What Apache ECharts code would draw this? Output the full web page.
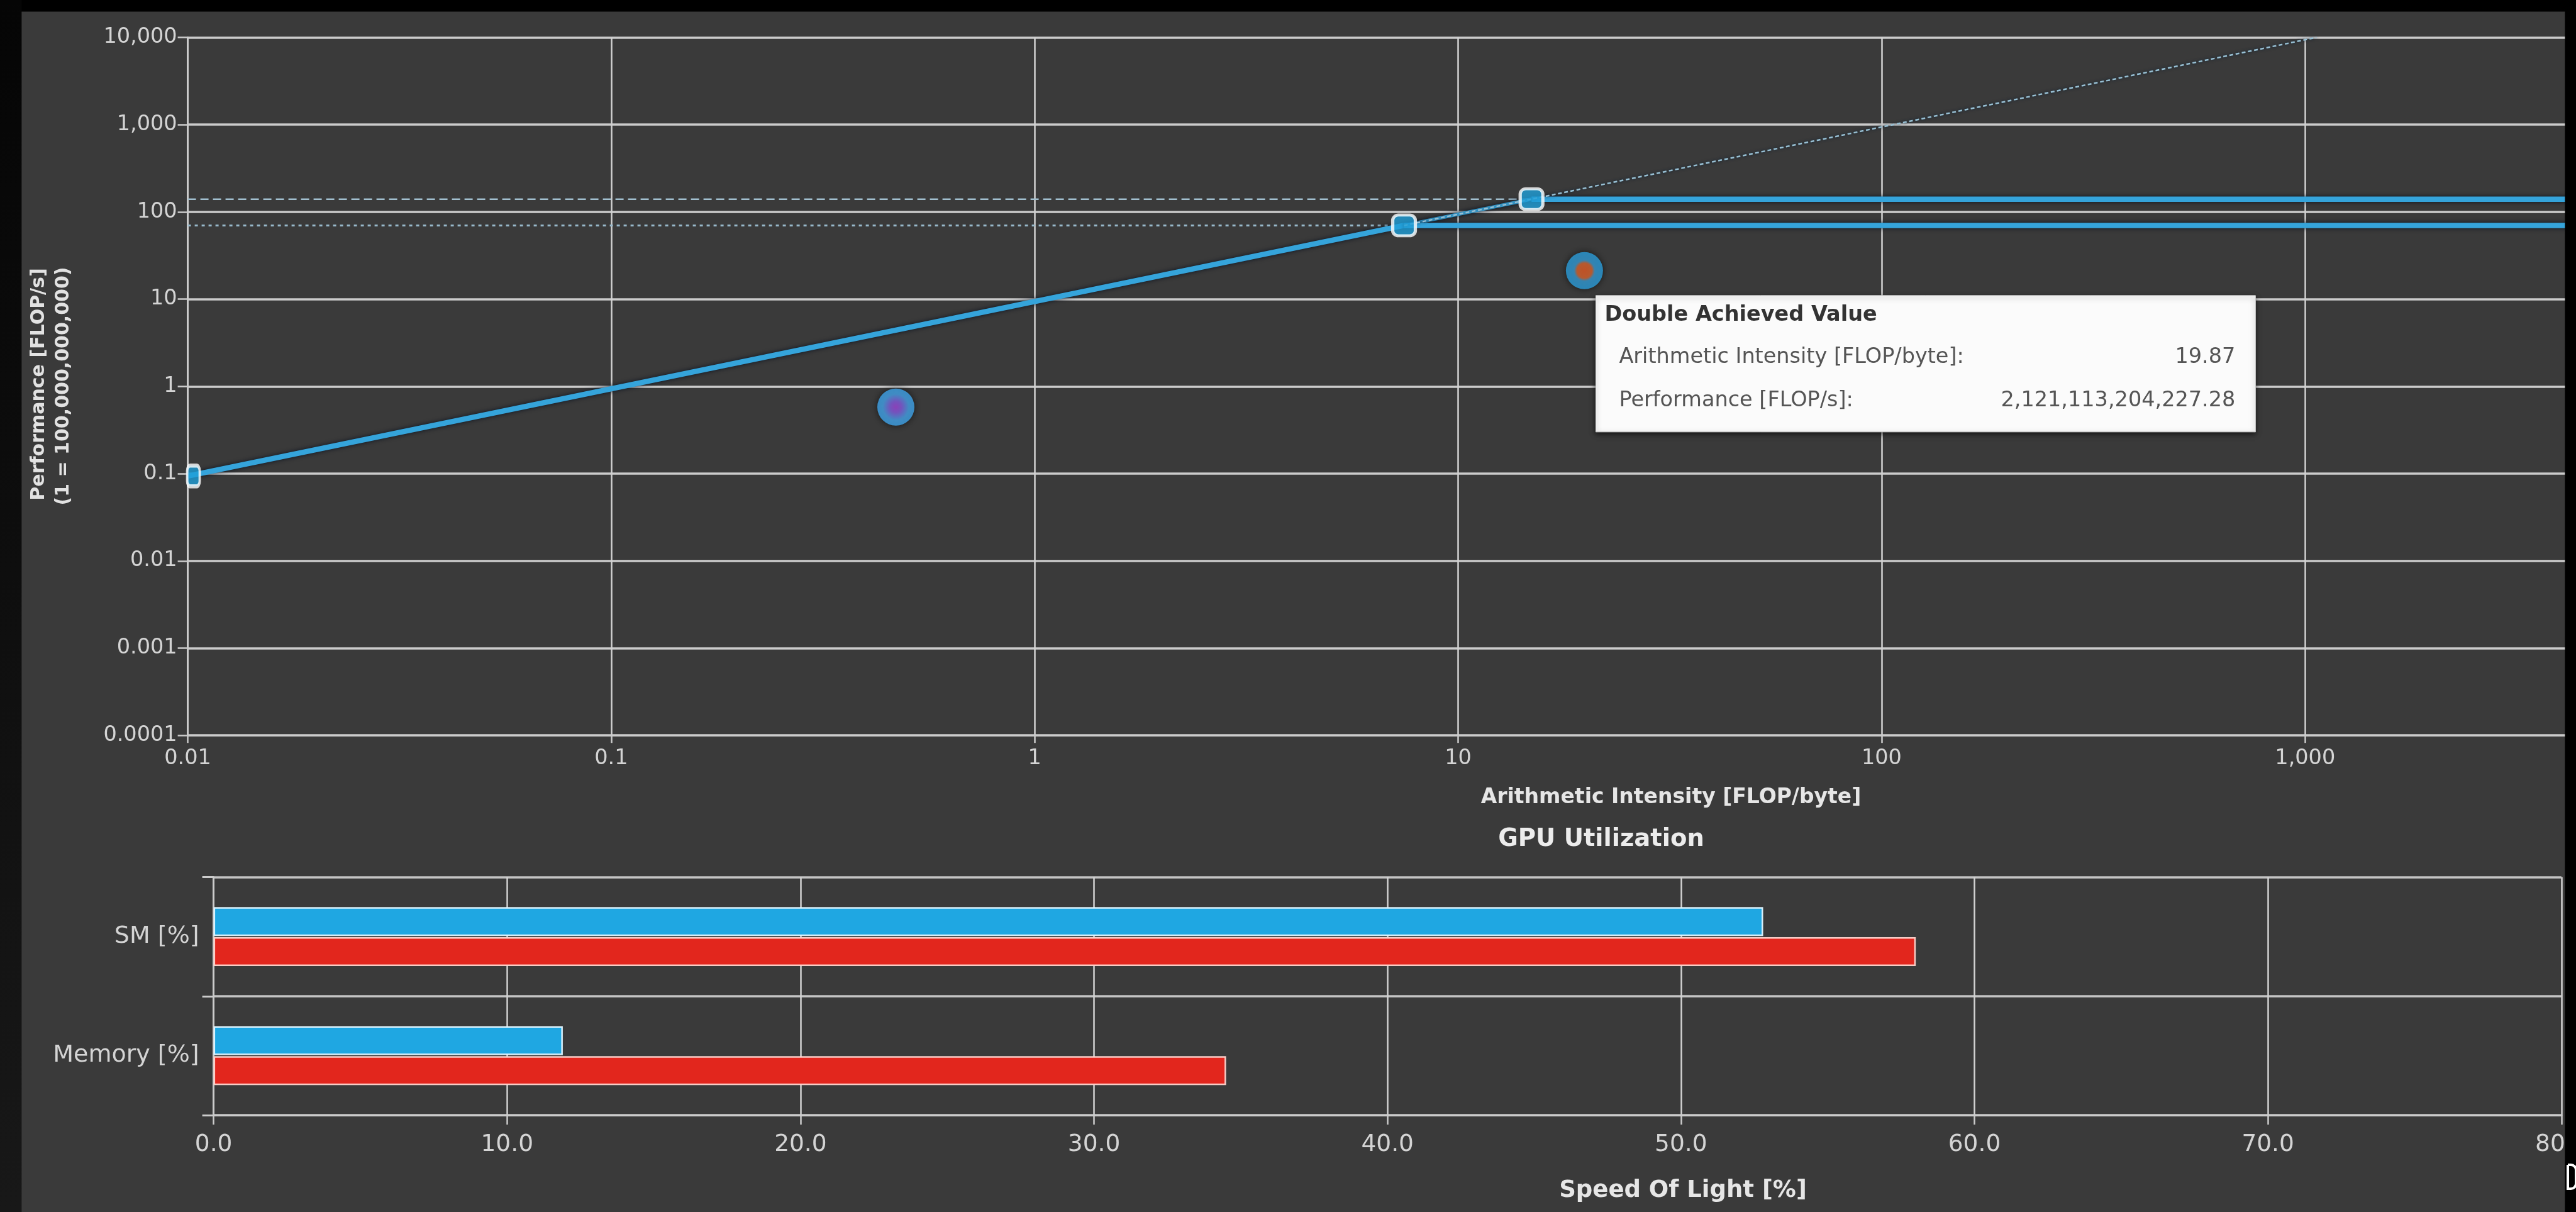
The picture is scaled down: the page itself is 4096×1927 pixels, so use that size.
<!DOCTYPE html>
<html>
<head>
<meta charset="utf-8">
<title>Roofline and GPU Utilization</title>
<script src="https://cdn.jsdelivr.net/npm/echarts@6/dist/echarts.min.js"></script>
<style>
  html, body { margin: 0; padding: 0; background: #000; overflow: hidden; }
  #chart { width: 4096px; height: 1927px; }
</style>
</head>
<body>
<div id="chart"></div>
<script>
// ---- Roofline data (performance axis is in units of 1e11 FLOP/s) ----
const perfUnit = 1e11;
const xTickLabels = ['0.01', '0.1', '1', '10', '100', '1,000', '10,000'];                 // 10^-2 .. 10^4
const yTickLabels = ['0.0001', '0.001', '0.01', '0.1', '1', '10', '100', '1,000', '10,000']; // 10^-4 .. 10^4

// roof segments as [arithmetic intensity, performance] pairs
const memoryRoof      = [[0.01, 0.094], [7.45, 70]];
const singleRoofRise  = [[7.45, 70], [14.9, 140]];
const doublePeakRoof  = [[7.45, 70], [10000, 70]];
const singlePeakRoof  = [[14.9, 140], [10000, 140]];
const doublePeakGuide = [[0.01, 70], [7.45, 70]];
const singlePeakGuide = [[0.01, 140], [14.9, 140]];
const bandwidthGuide  = [[7.45, 70], [1064, 10000]];
const roofCorners     = [[0.01, 0.094], [7.45, 70], [14.9, 140]];

// achieved values
const achievedNames     = ['Double Achieved Value', 'Single Achieved Value'];
const achievedIntensity = [19.87, 0.47];
const achievedFlops     = [2121113204227.28, 58000000000];

// ---- GPU utilization ----
const utilCategories = ['SM [%]', 'Memory [%]'];
const utilCurrent    = [52.8, 11.9];
const utilBaseline   = [58.0, 34.5];
const utilTickLabels = ['0.0', '10.0', '20.0', '30.0', '40.0', '50.0', '60.0', '70.0', '80.0'];

const FONT = '"DejaVu Sans", "Liberation Sans", sans-serif';
const labelColor = '#d4d4d4';
const gridColor = '#cbcbcb';
const roofBlue = '#35a4db';

const chart = echarts.init(document.getElementById('chart'), null, { renderer: 'canvas' });

function roofLine(data, width, color, type, z, shadow) {
  return {
    type: 'line', xAxisIndex: 0, yAxisIndex: 0, data: data,
    symbol: 'none', silent: true, animation: false, z: z,
    lineStyle: {
      width: width, color: color, type: type,
      shadowColor: shadow ? 'rgba(0,10,25,0.8)' : 'rgba(0,0,0,0)', shadowBlur: shadow ? 7 : 0
    }
  };
}

const achievedStyles = [
  { type: 'radial', x: 0.5, y: 0.5, r: 0.5, colorStops: [
      { offset: 0, color: '#e8602a' }, { offset: 0.4, color: '#dd6a35' },
      { offset: 0.56, color: '#3b9fd8' }, { offset: 1, color: '#2a9edc' } ] },
  { type: 'radial', x: 0.5, y: 0.5, r: 0.5, colorStops: [
      { offset: 0, color: '#a64ce0' }, { offset: 0.3, color: '#8a62e6' },
      { offset: 0.7, color: '#4aa8ee' }, { offset: 1, color: '#3ea4ea' } ] }
];

const achievedData = achievedIntensity.map((ai, i) => ({
  name: achievedNames[i],
  value: [ai, achievedFlops[i] / perfUnit],
  itemStyle: { color: achievedStyles[i] }
}));

const cornerData = roofCorners.map((p, i) => i === 0
  ? { value: p, symbolSize: [20, 33], symbolOffset: [9, 0] }
  : { value: p });

chart.setOption({
  backgroundColor: '#3a3a3a',
  animation: false,
  textStyle: { fontFamily: FONT },
  grid: [
    { left: 298.6, top: 59.5, width: 4040, height: 1109.7, containLabel: false, outerBoundsMode: 'none', show: false },
    { left: 339.6, top: 1394.5, width: 3733.2, height: 378.6, containLabel: false, outerBoundsMode: 'none', show: false }
  ],
  xAxis: [
    {
      type: 'log', logBase: 10, gridIndex: 0, min: 0.01, max: 10000,
      axisLine: { show: true, lineStyle: { color: gridColor, width: 3 } },
      axisTick: { show: true, length: 12, lineStyle: { color: gridColor, width: 2.5 } },
      minorTick: { show: false },
      splitLine: { show: true, lineStyle: { color: '#d2d2d2', width: 2.5 } },
      minorSplitLine: { show: false },
      axisLabel: {
        show: true, margin: 20, color: labelColor, fontSize: 33.5, fontFamily: FONT,
        formatter: v => xTickLabels[Math.round(Math.log10(v)) + 2] || ''
      }
    },
    {
      type: 'value', gridIndex: 1, min: 0, max: 80, interval: 10,
      axisLine: { show: true, lineStyle: { color: gridColor, width: 3 } },
      axisTick: { show: true, length: 15, lineStyle: { color: gridColor, width: 2.5 } },
      splitLine: { show: true, lineStyle: { color: '#d2d2d2', width: 2.5 } },
      axisLabel: {
        show: true, margin: 28, color: labelColor, fontSize: 37.5, fontFamily: FONT,
        showMaxLabel: true, showMinLabel: true,
        formatter: v => utilTickLabels[Math.round(v / 10)] || ''
      }
    }
  ],
  yAxis: [
    {
      type: 'log', logBase: 10, gridIndex: 0, min: 0.0001, max: 10000,
      axisLine: { show: true, lineStyle: { color: gridColor, width: 3 } },
      axisTick: { show: true, length: 16, lineStyle: { color: gridColor, width: 2.5 } },
      minorTick: { show: false },
      splitLine: { show: true, lineStyle: { color: gridColor, width: 3.5 } },
      minorSplitLine: { show: false },
      axisLabel: {
        show: true, margin: 17, color: labelColor, fontSize: 33.5, fontFamily: FONT,
        formatter: v => yTickLabels[Math.round(Math.log10(v)) + 4] || ''
      }
    },
    {
      type: 'category', gridIndex: 1, data: utilCategories, inverse: true,
      axisLine: { show: true, lineStyle: { color: gridColor, width: 3 } },
      axisTick: { show: true, length: 18, lineStyle: { color: gridColor, width: 3 } },
      splitLine: { show: true, lineStyle: { color: '#c4c4c4', width: 3.5 } },
      axisLabel: { show: true, margin: 23, color: labelColor, fontSize: 38, fontFamily: FONT }
    }
  ],
  series: [
    roofLine(doublePeakGuide, 3, '#98b9cb', [5, 6], 2, false),
    roofLine(singlePeakGuide, 2.5, '#a2c0d0', [13, 7], 2, false),
    roofLine(memoryRoof, 8.5, roofBlue, 'solid', 3, true),
    roofLine(singleRoofRise, 5.5, '#3ca7dc', 'solid', 3, true),
    roofLine(doublePeakRoof, 8.5, roofBlue, 'solid', 3, true),
    roofLine(singlePeakRoof, 8.5, roofBlue, 'solid', 3, true),
    {
      type: 'line', xAxisIndex: 0, yAxisIndex: 0, data: bandwidthGuide,
      symbol: 'none', silent: true, z: 4,
      lineStyle: { width: 2.5, color: '#98c0d4', type: [6, 4], shadowColor: 'rgba(0,25,45,0.9)', shadowBlur: 5 }
    },
    {
      type: 'scatter', name: 'Roof corners', xAxisIndex: 0, yAxisIndex: 0, data: cornerData,
      symbol: 'roundRect', symbolSize: [36, 33], z: 6, silent: true,
      itemStyle: { color: '#1f9fd8', borderColor: '#ffffff', borderWidth: 5 }
    },
    {
      type: 'scatter', name: 'Achieved', xAxisIndex: 0, yAxisIndex: 0, data: achievedData,
      symbol: 'circle', symbolSize: 59, z: 7, silent: true,
      itemStyle: { shadowColor: 'rgba(0,0,0,0.75)', shadowBlur: 12 }
    },
    {
      type: 'bar', name: 'Current', xAxisIndex: 1, yAxisIndex: 1, data: utilCurrent,
      barWidth: 46, barGap: '4%', silent: true,
      itemStyle: { color: '#1fa7e2', borderColor: 'rgba(225,246,255,0.95)', borderWidth: 2.5 }
    },
    {
      type: 'bar', name: 'Baseline', xAxisIndex: 1, yAxisIndex: 1, data: utilBaseline,
      barWidth: 46, barGap: '4%', silent: true,
      itemStyle: { color: '#e2261d', borderColor: 'rgba(255,212,205,0.95)', borderWidth: 2.5 }
    }
  ]
});

// ---- overlay: titles, value box and frame ----
function fmtFlops(v) {
  return v.toLocaleString('en-US', { minimumFractionDigits: 2, maximumFractionDigits: 2 });
}

const dp = chart.convertToPixel({ xAxisIndex: 0, yAxisIndex: 0 }, achievedData[0].value);
const boxW = 1049, boxH = 217;
const boxX = dp[0] + 18, boxY = dp[1] + 39.5;

const textFont = (w, s) => w + ' ' + s + 'px ' + FONT;

chart.setOption({
  graphic: [
    // axis titles
    { type: 'text', x: 62.3, y: 611, rotation: Math.PI / 2, z: 50,
      style: { text: 'Performance [FLOP/s]', font: textFont('bold', 30), fill: '#e2e2e2', align: 'center', verticalAlign: 'middle' } },
    { type: 'text', x: 101.4, y: 614, rotation: Math.PI / 2, z: 50,
      style: { text: '(1 = 100,000,000,000)', font: textFont('bold', 30), fill: '#e2e2e2', align: 'center', verticalAlign: 'middle' } },
    { type: 'text', x: 2657, y: 1268, z: 50,
      style: { text: 'Arithmetic Intensity [FLOP/byte]', font: textFont('bold', 33), fill: '#e6e6e6', align: 'center', verticalAlign: 'middle' } },
    { type: 'text', x: 2546, y: 1335, z: 50,
      style: { text: 'GPU Utilization', font: textFont('bold', 38.5), fill: '#ececec', align: 'center', verticalAlign: 'middle' } },
    { type: 'text', x: 2676, y: 1893, z: 50,
      style: { text: 'Speed Of Light [%]', font: textFont('bold', 37), fill: '#e6e6e6', align: 'center', verticalAlign: 'middle' } },

    // value box for the double achieved point
    { type: 'group', x: boxX, y: boxY, z: 60, children: [
      { type: 'rect', shape: { x: 0, y: 0, width: boxW, height: boxH },
        style: { fill: '#fbfbfb', stroke: '#c8c8c8', lineWidth: 1, shadowBlur: 8, shadowOffsetY: 3, shadowColor: 'rgba(0,0,0,0.6)' } },
      { type: 'text', x: 14, y: 31,
        style: { text: achievedNames[0], font: textFont('bold', 33.5), fill: '#333333', align: 'left', verticalAlign: 'middle' } },
      { type: 'text', x: 37, y: 98,
        style: { text: 'Arithmetic Intensity [FLOP/byte]:', font: textFont('normal', 33.5), fill: '#555555', align: 'left', verticalAlign: 'middle' } },
      { type: 'text', x: 1017, y: 98,
        style: { text: achievedIntensity[0].toFixed(2), font: textFont('normal', 33.5), fill: '#555555', align: 'right', verticalAlign: 'middle' } },
      { type: 'text', x: 37, y: 167,
        style: { text: 'Performance [FLOP/s]:', font: textFont('normal', 33.5), fill: '#555555', align: 'left', verticalAlign: 'middle' } },
      { type: 'text', x: 1017, y: 167,
        style: { text: fmtFlops(achievedFlops[0]), font: textFont('normal', 33.5), fill: '#555555', align: 'right', verticalAlign: 'middle' } }
    ] },

    // dark window frame
    { type: 'rect', z: 100, shape: { x: 0, y: 0, width: 4096, height: 18.6 }, style: { fill: '#000000' } },
    { type: 'rect', z: 100, shape: { x: 0, y: 0, width: 34.4, height: 1927 },
      style: { fill: { type: 'linear', x: 0, y: 0, x2: 0, y2: 1, colorStops: [ { offset: 0, color: '#050505' }, { offset: 1, color: '#181818' } ] } } },
    { type: 'rect', z: 100, shape: { x: 4078.4, y: 0, width: 20, height: 1927 }, style: { fill: '#000000' } },
    { type: 'rect', z: 101, shape: { x: 4083, y: 1852, width: 13, height: 38, r: [0, 8, 8, 0] },
      style: { fill: '#000000', stroke: '#ffffff', lineWidth: 4 } }
  ]
});
</script>
</body>
</html>
